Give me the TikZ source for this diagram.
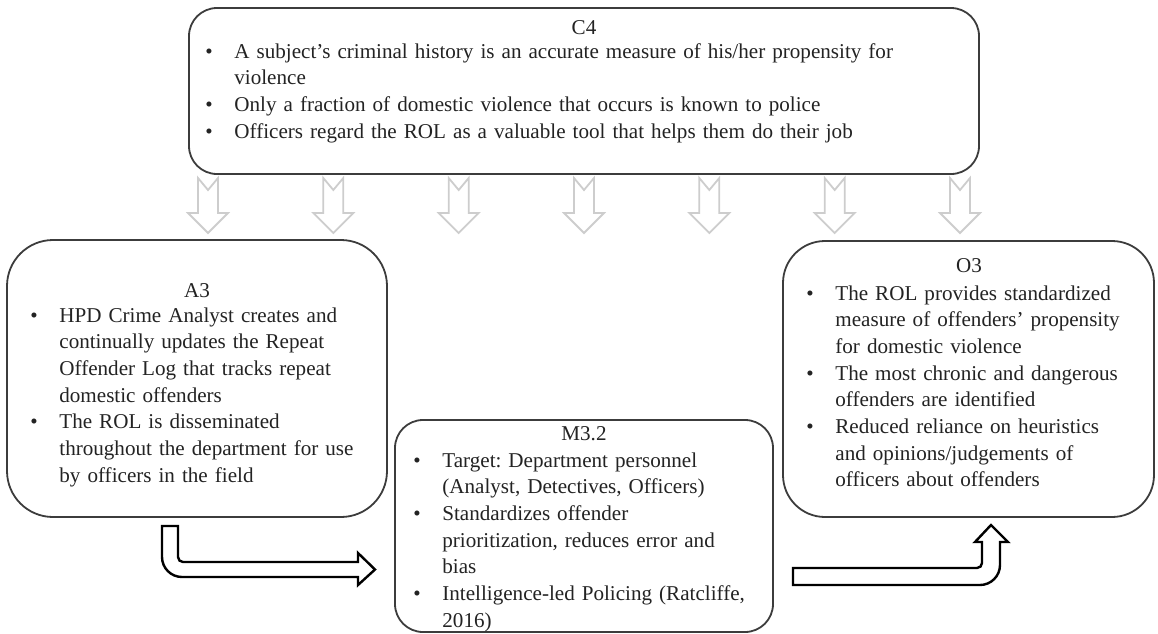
\documentclass[tikz,border=0pt]{standalone}
\usepackage{fontspec}
\setmainfont{Liberation Serif}
\frenchspacing
\newlength\bulind
\setlength\bulind{14.5pt}
% one bullet item with a hanging indent; lines are broken by hand with \newline
\newcommand{\bul}[1]{\noindent\hangindent=\bulind\hangafter=1\makebox[\bulind][l]{\textbullet}#1\par}
\definecolor{boxline}{RGB}{60,60,60}
\definecolor{txt}{RGB}{35,35,35}
\definecolor{softgray}{RGB}{205,205,205}
\begin{document}
\begin{tikzpicture}[x=0.5pt,y=-0.5pt,
  box/.style={draw=boxline, line width=0.9pt, rounded corners=#1, fill=white, inner sep=0pt},
  head/.style={anchor=base, inner sep=0pt, text=txt, font=\fontsize{10.55}{13.35}\selectfont},
  list/.style={anchor=base west, inner sep=0pt, align=left, text=txt, font=\fontsize{10.55}{13.35}\selectfont},
  downarrow/.style={draw=softgray, line width=0.9pt, fill=white, line join=miter},
  blockarrow/.style={draw=black, line width=1.2pt, fill=white, line join=miter}]
\useasboundingbox (0,0) rectangle (1158,633);

% boxes
\node[box=14pt, minimum width=395pt, minimum height=83pt] (c4) at (584,91) {};
\node[box=23pt, minimum width=190pt, minimum height=138.5pt] (a3) at (197,378.5) {};
\node[box=21pt, minimum width=185.5pt, minimum height=138pt] (o3) at (968.5,379) {};
\node[box=14pt, minimum width=189pt, minimum height=106pt] (m32) at (584,526) {};

% C4 text
\node[head] (c4h) at (584,34) {C4};
\node[list, text width=390pt] (c4l) at (205,58) {%
\bul{A subject’s criminal history is an accurate measure of his/her propensity for\newline violence}%
\bul{Only a fraction of domestic violence that occurs is known to police}%
\bul{Officers regard the ROL as a valuable tool that helps them do their job}};

% A3 text
\node[head] (a3h) at (197,297) {A3};
\node[list, text width=185pt] (a3l) at (30,322) {%
\bul{HPD Crime Analyst creates and\newline continually updates the Repeat\newline Offender Log that tracks repeat\newline domestic offenders}%
\bul{The ROL is disseminated\newline throughout the department for use\newline by officers in the field}};

% O3 text
\node[head] (o3h) at (969,272) {O3};
\node[list, text width=180pt] (o3l) at (806,300) {%
\bul{The ROL provides standardized\newline measure of offenders’ propensity\newline for domestic violence}%
\bul{The most chronic and dangerous\newline offenders are identified}%
\bul{Reduced reliance on heuristics\newline and opinions/judgements of\newline officers about offenders}};

% M3.2 text
\node[head] (m32h) at (584,440) {M3.2};
\node[list, text width=185pt] (m32l) at (413,467) {%
\bul{Target: Department personnel\newline (Analyst, Detectives, Officers)}%
\bul{Standardizes offender\newline prioritization, reduces error and\newline bias}%
\bul{Intelligence-led Policing (Ratcliffe,\newline 2016)}};

% light notched arrows from C4 down to the row below
\foreach \cx in {208,333.3,458.7,584,709.3,834.7,960}
  \draw[downarrow] (\cx-10,178) -- (\cx,190) -- (\cx+10,178) -- (\cx+10,213)
    -- (\cx+20,213) -- (\cx,233) -- (\cx-20,213) -- (\cx-10,213) -- cycle;

% bent block arrow A3 -> M3.2
\draw[blockarrow] (162,526) [rounded corners=10pt] -- (162,577) [sharp corners]
  -- (358,577) -- (358,585) -- (375,569.5) -- (358,553) -- (358,562)
  [rounded corners=2.5pt] -- (178,562) [sharp corners] -- (178,526) -- cycle;

% bent block arrow M3.2 -> O3
\draw[blockarrow] (793,568) -- (793,585) [rounded corners=10pt] -- (1000,585) [sharp corners]
  -- (1000,542) -- (1008,542) -- (991,525) -- (975,542) -- (982,542)
  [rounded corners=2.5pt] -- (982,568) [sharp corners] -- cycle;
\end{tikzpicture}
\end{document}
